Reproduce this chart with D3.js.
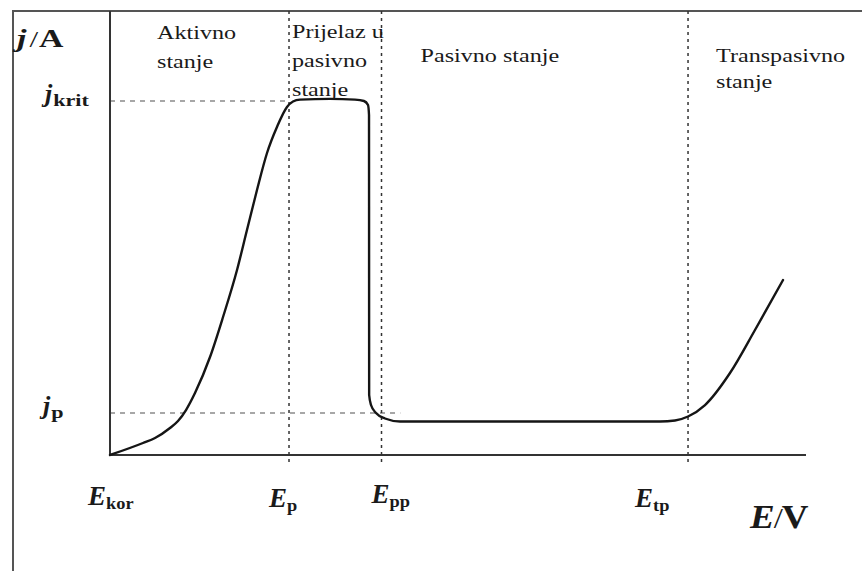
<!DOCTYPE html>
<html>
<head>
<meta charset="utf-8">
<script src="https://cdn.jsdelivr.net/npm/d3@7"></script>
<style>
  html, body { margin: 0; padding: 0; background: #fff; }
  svg { display: block; }
</style>
</head>
<body>
<svg id="chart" width="862" height="571"></svg>
<script>
// ---------- data ----------
// potential E (arbitrary units) and current density j (arbitrary units, j_krit = 10)
const curveE = [0, 0.474, 0.647, 0.862, 0.977, 1.092, 1.221, 1.437, 1.624, 1.825, 1.968, 2.112, 2.256, 2.399, 2.543, 2.629, 2.730, 3.161, 3.520, 3.649, 3.707, 3.7215, 3.7225, 3.7235, 3.750, 3.822, 3.951, 4.167, 6.000, 7.902, 8.118, 8.305, 8.549, 8.908, 9.267, 9.670];
const curveJ = [0, 0.339, 0.480, 0.763, 0.960, 1.271, 1.751, 2.768, 3.898, 5.226, 6.356, 7.486, 8.531, 9.266, 9.831, 9.986, 10.04, 10.06, 10.04, 10.00, 9.887, 9.605, 5.000, 1.695, 1.412, 1.186, 1.031, 0.946, 0.946, 0.946, 0.975, 1.088, 1.412, 2.316, 3.531, 4.944];

const potentialNames = ["kor", "p", "pp", "tp"];
const potentialValues = [0, 2.572, 3.901, 8.305];

const currentNames = ["krit", "p"];
const currentValues = [10, 1.186];

const regionLabels = [
  ["Aktivno", "stanje"],
  ["Prijelaz u", "pasivno", "stanje"],
  ["Pasivno stanje"],
  ["Transpasivno", "stanje"]
];
const axisLabelY = ["j", "/", "A"];
const axisLabelX = ["E", "/", "V"];

// ---------- layout ----------
const FONT = "Liberation Serif";
const svg = d3.select("#chart");
const x = d3.scaleLinear().domain([0, 10]).range([110, 806]);
const y = d3.scaleLinear().domain([0, 10]).range([455, 101]);
const frameTop = 11, frameLeft = 13;
const SX = 1.27; // horizontal text stretch of the original

// outer frame (clipped at right/bottom as in the picture)
svg.append("rect")
  .attr("x", frameLeft).attr("y", frameTop)
  .attr("width", 900).attr("height", 600)
  .attr("fill", "none").attr("stroke", "#555").attr("stroke-width", 2);

// dashed horizontal reference levels
const hEnds = [potentialValues[1], potentialValues[2] + 0.27];
svg.selectAll("line.hlevel").data(currentValues).join("line")
  .attr("class", "hlevel")
  .attr("x1", x(0)).attr("x2", (d, i) => x(hEnds[i]))
  .attr("y1", d => y(d)).attr("y2", d => y(d))
  .attr("stroke", "#8a8a8a").attr("stroke-width", 1.3)
  .attr("stroke-dasharray", "5,5");

// dotted vertical potential markers
svg.selectAll("line.vmark").data(potentialValues.slice(1)).join("line")
  .attr("class", "vmark")
  .attr("x1", d => x(d)).attr("x2", d => x(d))
  .attr("y1", frameTop).attr("y2", y(0) + 9)
  .attr("stroke", "#333").attr("stroke-width", 1.5)
  .attr("stroke-dasharray", "3,4");

// axes
svg.append("line").attr("x1", x(0)).attr("x2", x(0)).attr("y1", frameTop).attr("y2", y(0))
  .attr("stroke", "#333").attr("stroke-width", 2);
svg.append("line").attr("x1", x(0)).attr("x2", x(10)).attr("y1", y(0)).attr("y2", y(0))
  .attr("stroke", "#333").attr("stroke-width", 2);

// curve
const pts = curveE.map((e, i) => [e, curveJ[i]]);
const line = d3.line().x(d => x(d[0])).y(d => y(d[1])).curve(d3.curveMonotoneX);
svg.append("path").datum(pts).attr("d", line)
  .attr("fill", "none").attr("stroke", "#151515").attr("stroke-width", 2.4)
  .attr("stroke-linejoin", "round").attr("stroke-linecap", "round");

function txt(parent) {
  return parent.append("text").attr("font-family", FONT).attr("fill", "#1a1a1a");
}
// stretch a single-font text horizontally without transforms
function stretchText(t, sx) {
  const w = t.node().getComputedTextLength();
  t.attr("textLength", w * sx).attr("lengthAdjust", "spacingAndGlyphs");
  return w * sx;
}

// region labels
const regionX = [157, x(potentialValues[1]) + 3, x(potentialValues[2]) + 39, x(potentialValues[3]) + 28];
const regionY0 = [39, 38, 62, 62];
const regionDy = [28.5, 29, 28, 26];
regionLabels.forEach((lines, i) => {
  lines.forEach((s, k) => {
    const t = txt(svg).attr("x", regionX[i]).attr("y", regionY0[i] + k * regionDy[i])
      .attr("font-size", 19).text(s);
    stretchText(t, SX);
  });
});

// compound labels: placed piece by piece (sx = horizontal stretch)
function piece(px, py, s, size, weight, italic, sx) {
  const t = txt(svg).attr("x", px).attr("y", py).attr("font-size", size)
    .attr("font-weight", weight).attr("font-style", italic ? "italic" : "normal").text(s);
  const w = sx ? stretchText(t, sx) : t.node().getComputedTextLength();
  return px + w;
}

// y axis title j/A
{
  let px = piece(17, 47, axisLabelY[0], 26, "bold", true, 1.3);
  px = piece(px + 3, 47, axisLabelY[1], 24, "normal", false, 1.3);
  piece(px + 1, 47, axisLabelY[2], 25, "bold", false, 1.35);
}
// x axis title E/V
{
  let px = piece(750, 528, axisLabelX[0], 33, "bold", true, 1.12);
  px = piece(px - 1, 528, axisLabelX[1], 30, "normal", false, 1.1);
  piece(px - 1, 528, axisLabelX[2], 33, "bold", false, 1.12);
}

// current level labels j_krit, j_p
const currentLabelX = [45, 43];
currentValues.forEach((v, i) => {
  const px = piece(currentLabelX[i], y(v) + 1, "j", 26, "bold", true);
  piece(px + 1, y(v) + 5, currentNames[i], 17, "bold", false, 1.3);
});

// potential labels E_kor, E_p, E_pp, E_tp
const potLabelDx = [-22, -20, -10, -53];
const potLabelY = [505, 507, 503, 507];
potentialValues.forEach((v, i) => {
  const px = piece(x(v) + potLabelDx[i], potLabelY[i], "E", 27, "bold", true);
  piece(px, potLabelY[i] + 4, potentialNames[i], 17, "bold", false, 1.08);
});
</script>
</body>
</html>
